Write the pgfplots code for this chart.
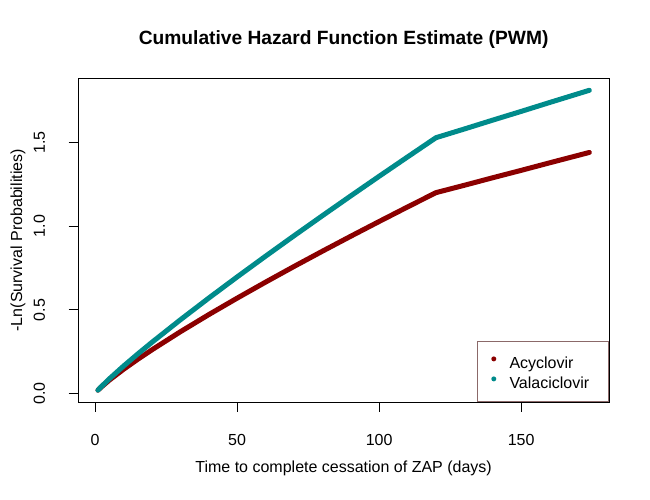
\documentclass[border=0pt]{standalone}
\usepackage{pgfplots}
\pgfplotsset{compat=1.18}
\usepackage{pgfplotstable}
\usepackage{fontspec}
\setmainfont{Liberation Sans}
\definecolor{acy}{HTML}{8B0000}
\definecolor{vala}{HTML}{008B8B}
\definecolor{legc}{HTML}{8B6969}
\pgfplotstableread{
t ac va
1 0.0205 0.0209
2 0.0370 0.0388
5 0.0806 0.0883
10 0.1452 0.1646
15 0.2050 0.2367
20 0.2617 0.3064
30 0.3694 0.4407
40 0.4717 0.5704
50 0.5701 0.6968
60 0.6657 0.8205
70 0.7590 0.9422
80 0.8502 1.0621
90 0.9397 1.1806
100 1.0277 1.2976
110 1.1145 1.4132
120 1.2000 1.5280
130 1.2440 1.5800
140 1.2890 1.6330
150 1.3330 1.6850
160 1.3780 1.7380
174 1.4400 1.8110
}\datatable
\begin{document}
\begin{tikzpicture}
\path[use as bounding box] (0,0) rectangle (650bp,500bp);
\begin{axis}[
  at={(78.3bp,97.7bp)}, anchor=south west,
  scale only axis, width=530.7bp, height=324bp,
  xmin=-5.92, xmax=180.92, ymin=-0.0516, ymax=1.8826,
  xtick={0,50,100,150}, ytick={0,0.5,1,1.5},
  xtick pos=left, ytick pos=left,
  tick align=outside, major tick length=9.6bp,
  tick style={black, line width=1bp},
  axis line style={black, line width=1bp},
  /pgf/number format/assume math mode=true,
  ticklabel style={font=\fontsize{16bp}{19.2bp}\selectfont},
  xticklabel style={anchor=center, yshift=-27.7bp},
  yticklabel style={anchor=center, xshift=-29.3bp, rotate=90,
    /pgf/number format/.cd, fixed, fixed zerofill, precision=1},
  legend cell align=left,
  legend style={at={(1,0)}, anchor=south east, draw=legc, line width=1bp,
    fill=white, inner xsep=0pt, inner ysep=10bp, row sep=0pt,
    font=\fontsize{16bp}{19.2bp}\selectfont,
    nodes={inner sep=0pt, text height=16.5bp, text depth=3.5bp},
    /tikz/every odd column/.style={column sep=13.2bp},
    /tikz/every even column/.style={text width=99bp}},
  legend image code/.code={\path (-16.3bp,0bp); \fill[#1] (0bp,0.55ex) circle (2.5bp);},
]
\addplot[acy, line width=5bp, line cap=round, line join=round, forget plot] table[x=t, y=ac] {\datatable};
\addplot[vala, line width=5bp, line cap=round, line join=round, forget plot] table[x=t, y=va] {\datatable};
\addlegendimage{acy, draw=none, fill=acy}
\addlegendentry{Acyclovir}
\addlegendimage{vala, draw=none, fill=vala}
\addlegendentry{Valaciclovir}
\end{axis}
\node[font=\bfseries\fontsize{19.2bp}{23bp}\selectfont, anchor=center] at (343.6bp,460bp) {Cumulative Hazard Function Estimate (PWM)};
\node[font=\fontsize{16bp}{19.2bp}\selectfont, anchor=center] at (343.6bp,32bp) {Time to complete cessation of ZAP (days)};
\node[font=\fontsize{16bp}{19.2bp}\selectfont, anchor=center, rotate=90] at (18bp,259.7bp) {-Ln(Survival Probabilities)};
\end{tikzpicture}
\end{document}
